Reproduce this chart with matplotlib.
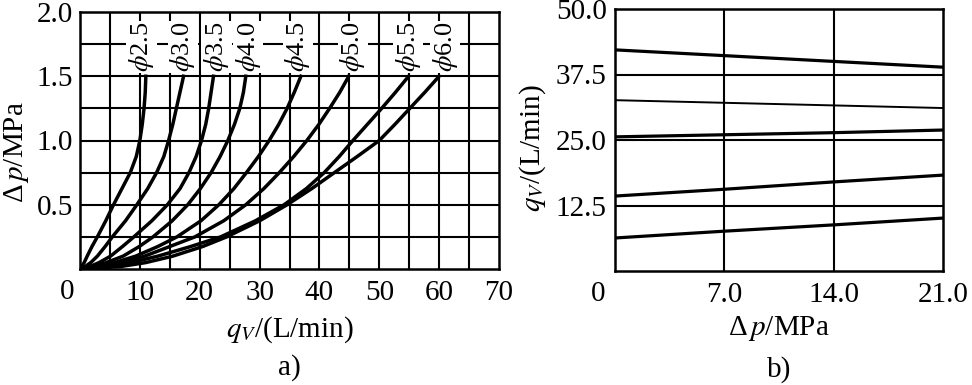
import matplotlib
matplotlib.use("Agg")
import matplotlib.pyplot as plt

plt.rcParams['font.family'] = ['Liberation Serif', 'DejaVu Serif']
plt.rcParams['mathtext.fontset'] = 'stix'

# ---------------- data: panel a) ----------------
dp_a = [0, 0.02, 0.05, 0.1, 0.175, 0.25, 0.375, 0.5, 0.625, 0.75, 0.875, 1.0, 1.125, 1.25, 1.375, 1.5]
q_phi25 = [0, 0.25, 0.7, 1.2, 2.0, 2.9, 4.3, 5.6, 7.0, 8.4, 9.4, 10.0, 10.4, 10.7, 10.9, 11.0]
q_phi30 = [0, 0.9, 1.8, 2.9, 4.2, 5.4, 7.6, 9.5, 11.3, 12.8, 14.0, 14.8, 15.5, 16.1, 16.7, 17.3]
q_phi35 = [0, 1.7, 3.2, 5.1, 7.1, 9.0, 12.0, 14.6, 16.7, 18.2, 19.4, 20.3, 21.0, 21.5, 21.9, 22.3]
q_phi40 = [0, 2.4, 4.4, 7.2, 9.9, 12.2, 15.4, 18.0, 20.1, 21.9, 23.4, 24.7, 25.8, 26.7, 27.3, 27.7]
q_phi45 = [0, 3.2, 5.8, 9.3, 13.0, 16.2, 20.2, 23.2, 25.7, 27.8, 29.8, 31.6, 33.2, 34.6, 35.8, 36.9]
q_phi50 = [0, 4.0, 7.0, 10.8, 15.0, 19.2, 24.0, 27.7, 30.7, 33.3, 35.7, 37.9, 39.9, 41.7, 43.4, 44.9]
q_phi55 = [0, 5.0, 8.5, 13.0, 18.5, 23.5, 29.3, 34.1, 37.8, 40.8, 43.3, 45.6, 48.0, 50.4, 52.7, 54.9]
q_phi60 = [0, 6.9, 11.0, 15.5, 20.5, 24.5, 30.0, 34.6, 38.7, 42.5, 46.3, 50.0, 52.6, 55.1, 57.6, 60.0]
curves_a = [q_phi25, q_phi30, q_phi35, q_phi40, q_phi45, q_phi50, q_phi55, q_phi60]
labels_a = ["2.5", "3.0", "3.5", "4.0", "4.5", "5.0", "5.5", "6.0"]
label_q = [10.3, 17.2, 22.8, 28.1, 36.4, 45.6, 54.8, 61.0]
xticks_a = [10, 20, 30, 40, 50, 60, 70]
yticks_a = [0.5, 1.0, 1.5, 2.0]

# ---------------- data: panel b) ----------------
dp_b = [0, 7.0, 14.0, 21.0]
q_b1 = [42.2, 41.1, 40.0, 38.9]
q_b2 = [32.6, 32.1, 31.6, 31.1]
q_b3 = [25.6, 26.0, 26.4, 26.9]
q_b4 = [14.3, 15.6, 17.0, 18.3]
q_b5 = [6.3, 7.6, 8.8, 10.1]
lines_b = [q_b1, q_b2, q_b3, q_b4, q_b5]
widths_b = [2.3, 1.4, 2.3, 2.3, 2.3]
xticks_b = [7.0, 14.0, 21.0]
yticks_b = [12.5, 25.0, 37.5, 50.0]

FS = 21
FS_PHI = 19
W, H = 972, 385
fig = plt.figure(figsize=(W / 100, H / 100), dpi=100)

def frac(l, t, r, b):
    return [l / W, 1 - b / H, (r - l) / W, (b - t) / H]

# ---------- panel a ----------
ax = fig.add_axes(frac(80, 12, 499, 269))
ax.set_xlim(0, 70)
ax.set_ylim(0, 2.0)
for v in range(5, 70, 5):
    ax.axvline(v, color='black', lw=1.5, zorder=1)
for h in [0.25, 0.5, 0.75, 1.0, 1.25, 1.5, 1.75]:
    ax.axhline(h, color='black', lw=1.5, zorder=1)
for qs in curves_a:
    ax.plot(qs, dp_a, color='black', lw=2.5, zorder=3, solid_joinstyle='round')
for lab, xq in zip(labels_a, label_q):
    ax.text(xq, 1.53, r"$\phi$" + lab, rotation=90, ha='center', va='bottom',
            fontsize=FS_PHI, zorder=4,
            bbox=dict(facecolor='white', edgecolor='none', pad=0.5))
ax.set_xticks(xticks_a)
ax.set_xticklabels([str(t) for t in xticks_a])
ax.set_yticks(yticks_a)
ax.set_yticklabels(["%.1f" % t for t in yticks_a])
ax.tick_params(length=0, labelsize=FS)
ax.tick_params(axis='x', pad=8)
ax.tick_params(axis='y', pad=5)
for s in ax.spines.values():
    s.set_linewidth(1.8)
ax.text(-0.03, -0.04, "0", transform=ax.transAxes, ha='center', va='top', fontsize=FS)
ax.set_xlabel(r"$q_V$/(L/min)", fontsize=FS, labelpad=6)
ax.set_ylabel("Δ$\\,p$/MPa", fontsize=FS)
ax.yaxis.set_label_coords(-0.118, 0.455)
ax.text(0.5, -0.385, "a)", transform=ax.transAxes, ha='center', va='center', fontsize=FS)

# ---------- panel b ----------
bx = fig.add_axes(frac(615, 9, 943, 271))
bx.set_xlim(0, 21)
bx.set_ylim(0, 50)
for v in [7.0, 14.0]:
    bx.axvline(v, color='black', lw=1.5, zorder=1)
for h in [12.5, 25.0, 37.5]:
    bx.axhline(h, color='black', lw=1.5, zorder=1)
for qs, w in zip(lines_b, widths_b):
    bx.plot(dp_b, qs, color='black', lw=w, zorder=3)
bx.set_xticks(xticks_b)
bx.set_xticklabels(["%.1f" % t for t in xticks_b])
bx.set_yticks(yticks_b)
bx.set_yticklabels(["%.1f" % t for t in yticks_b])
bx.tick_params(length=0, labelsize=FS)
bx.tick_params(axis='x', pad=8)
bx.tick_params(axis='y', pad=6)
for s in bx.spines.values():
    s.set_linewidth(1.8)
bx.text(-0.05, -0.04, "0", transform=bx.transAxes, ha='center', va='top', fontsize=FS)
bx.set_xlabel("Δ$\\,p$/MPa", fontsize=FS, labelpad=4)
bx.set_ylabel(r"$q_V$/(L/min)", fontsize=FS)
bx.yaxis.set_label_coords(-0.205, 0.47)
bx.text(0.5, -0.375, "b)", transform=bx.transAxes, ha='center', va='center', fontsize=FS)

fig.savefig("out.png", dpi=100)
